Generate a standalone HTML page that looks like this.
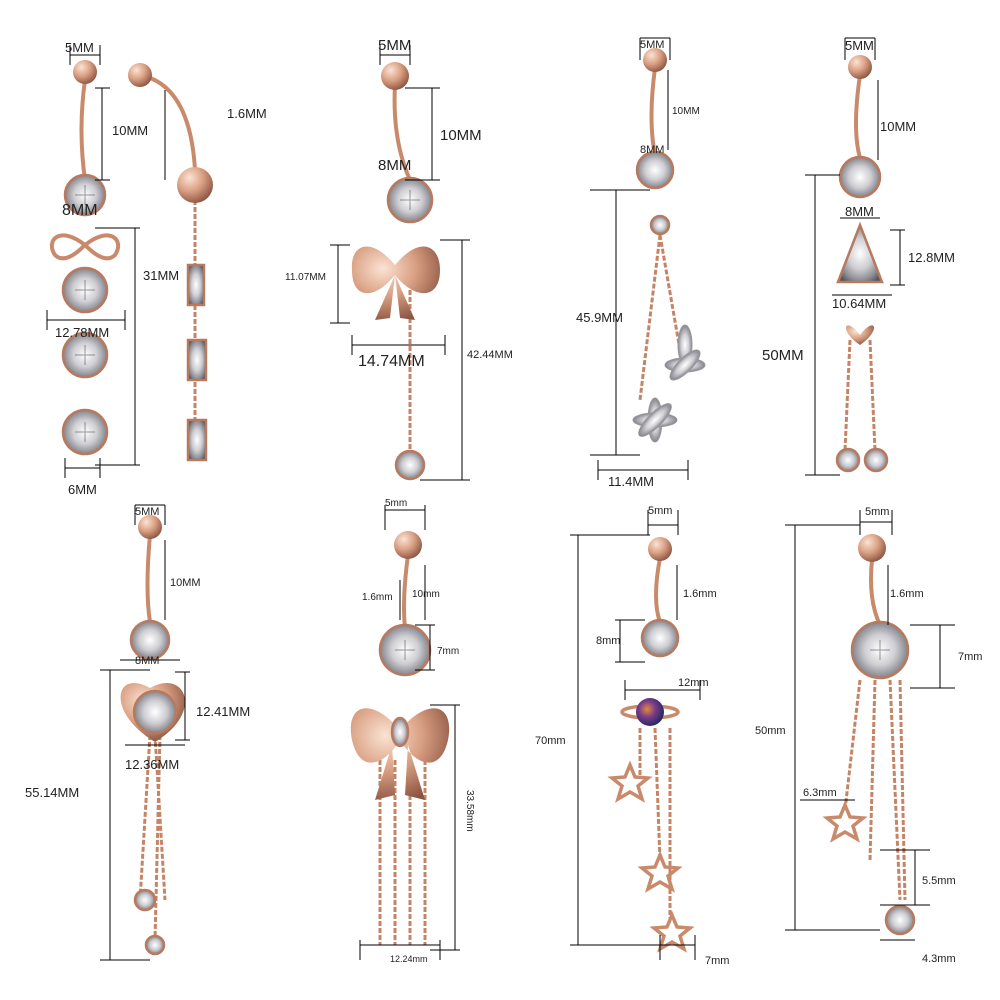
<!DOCTYPE html>
<html><head><meta charset="utf-8"><style>
html,body{margin:0;padding:0;background:#fff}
svg{display:block}
text{font-family:"Liberation Sans",sans-serif;fill:#222}
</style></head><body>
<svg width="1000" height="1000" viewBox="0 0 1000 1000" xmlns="http://www.w3.org/2000/svg">
<defs>
<radialGradient id="g" cx="35%" cy="30%" r="75%"><stop offset="0" stop-color="#fbe3d3"/><stop offset="0.5" stop-color="#d9a083"/><stop offset="1" stop-color="#8a5340"/></radialGradient>
<radialGradient id="d" cx="50%" cy="50%" r="60%"><stop offset="0" stop-color="#fff"/><stop offset="0.45" stop-color="#cfcfd4"/><stop offset="0.8" stop-color="#8a8a92"/><stop offset="1" stop-color="#55555c"/></radialGradient>
<radialGradient id="p" cx="40%" cy="40%" r="60%"><stop offset="0" stop-color="#e08a3a"/><stop offset="0.5" stop-color="#7a3a8a"/><stop offset="1" stop-color="#2a2a60"/></radialGradient>
</defs>
<g stroke="#c98a6c" stroke-width="4" fill="none">
<path d="M85 80 Q78 130 85 180"/><path d="M140 75 Q190 85 195 170"/>
<path d="M395 85 Q392 140 410 180"/><path d="M655 68 Q648 120 655 155"/>
<path d="M860 75 Q852 130 860 158"/><path d="M150 535 Q145 590 150 622"/>
<path d="M408 555 Q402 600 405 628"/><path d="M660 558 Q652 600 660 622"/>
<path d="M872 560 Q868 600 880 625"/>
</g>
<g stroke="#c68466" stroke-width="3" fill="none" stroke-dasharray="5 2">
<path d="M195 200 V440"/><path d="M410 290 V455"/>
<path d="M660 235 L640 400 M660 235 L680 350"/>
<path d="M850 340 L845 450 M870 340 L875 450"/>
<path d="M150 735 L140 900 M155 735 L165 900 M160 735 L155 940"/>
<path d="M380 760 V945 M395 760 V945 M410 760 V945 M425 760 V945"/>
<path d="M640 728 L640 775 M655 728 L660 860 M670 728 L670 920"/>
<path d="M860 680 L845 810 M875 680 L870 860 M890 680 L900 900 M900 680 L905 900"/>
</g>
<g fill="url(#g)">
<circle cx="85" cy="72" r="12"/><circle cx="140" cy="75" r="12"/><circle cx="395" cy="76" r="14"/>
<circle cx="655" cy="60" r="12"/><circle cx="860" cy="67" r="12"/><circle cx="150" cy="527" r="12"/>
<circle cx="408" cy="545" r="14"/><circle cx="660" cy="549" r="12"/><circle cx="872" cy="548" r="14"/>
<circle cx="195" cy="185" r="18"/>
<path d="M85 245 C60 225 45 240 55 255 C65 265 80 250 85 245 C90 250 105 265 115 255 C125 240 110 225 85 245Z" fill="none" stroke="#c98a6c" stroke-width="4"/>
<path d="M395 265 C370 235 350 245 352 270 C352 300 375 300 395 275 C415 300 440 300 440 270 C440 245 420 235 395 265Z M395 275 L375 320 L390 318 Z M395 275 L415 320 L400 318Z"/>
<path d="M400 730 C370 695 345 705 352 740 C360 775 385 765 400 740 C415 765 440 775 448 740 C455 705 430 695 400 730Z M392 745 L375 800 L395 795Z M408 745 L425 800 L405 795Z"/>
<path d="M860 335 C845 315 838 330 860 345 C882 330 875 315 860 335Z"/>
<path d="M155 742 C105 712 115 668 150 688 C185 668 205 712 155 742Z"/>
<path d="M885 855 A24 24 0 1 0 890 905 A18 18 0 1 1 885 855Z"/>
</g>
<g fill="none" stroke="#c98a6c" stroke-width="3.5">
<path d="M630 765 l5 12 13 1 -10 8 4 13 -12 -7 -12 7 4 -13 -10 -8 13 -1Z"/>
<path d="M660 855 l5 12 13 1 -10 8 4 13 -12 -7 -12 7 4 -13 -10 -8 13 -1Z"/>
<path d="M672 915 l5 12 13 1 -10 8 4 13 -12 -7 -12 7 4 -13 -10 -8 13 -1Z"/>
<path d="M845 805 l5 12 13 1 -10 8 4 13 -12 -7 -12 7 4 -13 -10 -8 13 -1Z"/>
<ellipse cx="650" cy="712" rx="28" ry="6"/>
</g>
<circle cx="650" cy="712" r="14" fill="url(#p)"/>
<g fill="url(#d)" stroke="#b87a5e" stroke-width="2.5">
<circle cx="85" cy="195" r="20"/><circle cx="85" cy="290" r="22"/><circle cx="85" cy="355" r="22"/><circle cx="85" cy="432" r="22"/>
<rect x="188" y="265" width="16" height="40"/><rect x="188" y="340" width="18" height="40"/><rect x="188" y="420" width="18" height="40"/>
<circle cx="410" cy="200" r="22"/><circle cx="410" cy="465" r="14"/>
<circle cx="655" cy="170" r="18"/><circle cx="660" cy="225" r="9"/>
<circle cx="860" cy="177" r="20"/><path d="M860 225 L882 282 H838Z"/><circle cx="848" cy="460" r="11"/><circle cx="876" cy="460" r="11"/>
<circle cx="150" cy="640" r="19"/><circle cx="155" cy="712" r="21"/><circle cx="145" cy="900" r="10"/><circle cx="155" cy="945" r="9"/>
<circle cx="405" cy="650" r="25"/><ellipse cx="400" cy="732" rx="8" ry="14"/>
<circle cx="660" cy="638" r="18"/>
<circle cx="880" cy="650" r="28"/><circle cx="900" cy="920" r="14"/>
</g>
<g stroke="#555" stroke-width="1" fill="none" opacity="0.6">
<path d="M75 195 H95 M85 185 V205 M75 290 H95 M85 280 V300 M75 355 H95 M85 345 V365 M75 432 H95 M85 422 V442 M400 200 H420 M410 190 V210 M395 650 H415 M405 640 V660 M870 650 H890 M880 640 V660"/>
</g>
<g fill="url(#d)" stroke="#999" stroke-width="1">
<ellipse cx="685" cy="345" rx="7" ry="20"/><ellipse cx="685" cy="365" rx="20" ry="7"/><ellipse cx="685" cy="365" rx="7" ry="20" transform="rotate(45 685 365)"/>
<ellipse cx="655" cy="420" rx="7" ry="22"/><ellipse cx="655" cy="420" rx="22" ry="7"/><ellipse cx="655" cy="420" rx="7" ry="22" transform="rotate(45 655 420)"/>
</g>
<g stroke="#000" stroke-width="1" fill="none">
<path d="M70 55 H100 M70 45 V65 M100 45 V65"/><path d="M102 88 V180 M95 88 H110 M95 180 H110"/>
<path d="M135 228 V465 M95 228 H140 M95 465 H140"/><path d="M47 320 H125 M47 310 V330 M125 310 V330"/>
<path d="M65 468 H100 M65 458 V478 M100 458 V478"/><path d="M165 90 V180"/>
<path d="M380 55 H410 M380 45 V65 M410 45 V65"/><path d="M432 88 V180 M405 88 H440 M405 180 H440"/>
<path d="M338 245 V323 M330 245 H350 M330 323 H350"/><path d="M352 345 H445 M352 335 V355 M445 335 V355"/>
<path d="M462 240 V480 M440 240 H470 M420 480 H470"/>
<path d="M640 38 H670 M640 38 V60 M670 38 V60"/><path d="M668 70 V150"/>
<path d="M616 190 V455 M590 190 H650 M590 455 H640"/><path d="M598 470 H688 M598 460 V480 M688 460 V480"/>
<path d="M845 38 H875 M845 38 V60 M875 38 V60"/><path d="M878 80 V160"/><path d="M840 218 H880"/>
<path d="M900 230 V285 M890 230 H905 M890 285 H905"/><path d="M832 295 H892"/>
<path d="M815 175 V475 M805 175 H840 M805 475 H840"/>
<path d="M135 505 H165 M135 505 V525 M165 505 V525"/><path d="M165 540 V620"/><path d="M120 660 H180"/>
<path d="M185 672 V740 M175 672 H190 M175 740 H190"/><path d="M125 745 H185"/>
<path d="M110 670 V960 M100 670 H150 M100 960 H150"/>
<path d="M385 510 H425 M385 505 V530 M425 505 V530"/><path d="M400 580 V620"/><path d="M425 565 V620"/>
<path d="M430 625 V670 M415 625 H435 M415 670 H435"/><path d="M455 705 V950 M430 705 H460 M430 950 H460"/>
<path d="M360 945 H440 M360 940 V960 M440 940 V960"/>
<path d="M648 525 H678 M648 510 V535 M678 510 V535"/><path d="M677 565 V620"/>
<path d="M620 620 V662 M615 620 H645 M615 662 H645"/><path d="M625 690 H700 M625 680 V700 M700 680 V700"/>
<path d="M578 535 V945 M570 535 H650 M570 945 H680"/><path d="M660 945 H695 M660 935 V960 M695 935 V960"/>
<path d="M860 522 H892 M860 510 V535 M892 510 V535"/><path d="M888 565 V625"/>
<path d="M940 625 V688 M910 625 H955 M910 688 H955"/><path d="M795 525 V930 M785 525 H860 M785 930 H880"/>
<path d="M800 800 H855"/><path d="M915 850 V905 M880 850 H930 M880 905 H930"/><path d="M880 940 H915"/>
</g>
<g font-size="13">
<text x="65" y="52">5MM</text><text x="112" y="135">10MM</text><text x="62" y="215" font-size="16">8MM</text>
<text x="143" y="280">31MM</text><text x="55" y="337">12.78MM</text><text x="68" y="494">6MM</text><text x="227" y="118">1.6MM</text>
<text x="378" y="50" font-size="15">5MM</text><text x="440" y="140" font-size="15">10MM</text><text x="378" y="170" font-size="15">8MM</text>
<text x="285" y="280" font-size="10">11.07MM</text><text x="358" y="366" font-size="16">14.74MM</text><text x="467" y="358" font-size="11">42.44MM</text>
<text x="640" y="48" font-size="11">5MM</text><text x="672" y="114" font-size="10">10MM</text><text x="640" y="153" font-size="11">8MM</text>
<text x="576" y="322">45.9MM</text><text x="608" y="486">11.4MM</text>
<text x="845" y="50">5MM</text><text x="880" y="131">10MM</text><text x="845" y="216">8MM</text>
<text x="908" y="262">12.8MM</text><text x="832" y="308">10.64MM</text><text x="762" y="360" font-size="15">50MM</text>
<text x="135" y="515" font-size="11">5MM</text><text x="170" y="586" font-size="11">10MM</text><text x="135" y="664" font-size="11">8MM</text>
<text x="196" y="716">12.41MM</text><text x="125" y="769">12.36MM</text><text x="25" y="797">55.14MM</text>
<text x="385" y="506" font-size="10">5mm</text><text x="362" y="600" font-size="10">1.6mm</text><text x="412" y="597" font-size="10">10mm</text>
<text x="437" y="654" font-size="10">7mm</text><text x="467" y="790" font-size="10" transform="rotate(90 467 790)">33.58mm</text>
<text x="390" y="962" font-size="9">12.24mm</text>
<text x="648" y="514" font-size="11">5mm</text><text x="683" y="597" font-size="11">1.6mm</text><text x="596" y="644" font-size="11">8mm</text>
<text x="678" y="686" font-size="11">12mm</text><text x="535" y="744" font-size="11">70mm</text><text x="705" y="964" font-size="11">7mm</text>
<text x="865" y="515" font-size="11">5mm</text><text x="890" y="597" font-size="11">1.6mm</text><text x="958" y="660" font-size="11">7mm</text>
<text x="755" y="734" font-size="11">50mm</text><text x="803" y="796" font-size="11">6.3mm</text><text x="922" y="884" font-size="11">5.5mm</text>
<text x="922" y="962" font-size="11">4.3mm</text>
</g>
</svg>
</body></html>
